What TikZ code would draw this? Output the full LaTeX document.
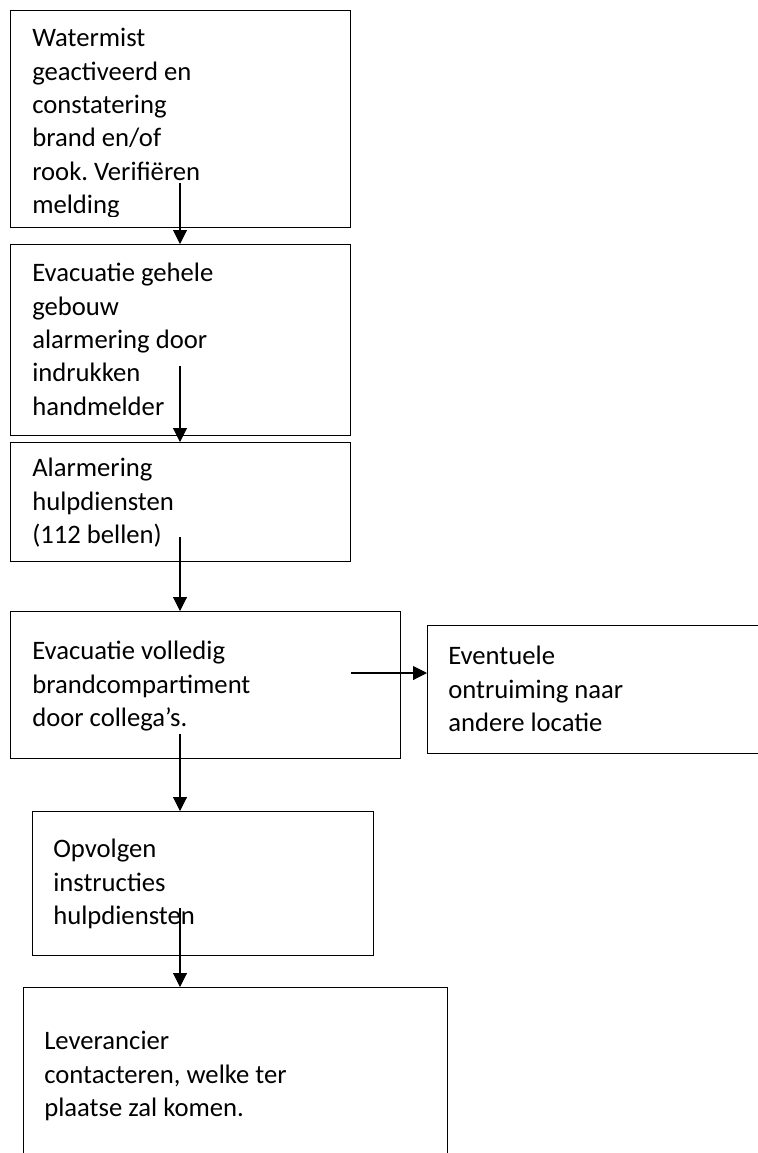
\documentclass[tikz,border=0pt]{standalone}
\usepackage{fontspec}
\setmainfont{Carlito}
\usetikzlibrary{arrows.meta}
\frenchspacing

\tikzset{
  box/.style={draw, line width=0.8pt, anchor=north west, inner sep=0pt},
  txt/.style={anchor=base west, align=left, inner sep=0pt, font=\fontsize{20}{25}\selectfont},
  arr/.style={-{Triangle[width=10.5pt,length=10.5pt]}, line width=0.8pt}
}

\begin{document}
\begin{tikzpicture}[x=0.75pt, y=-0.75pt]
        \useasboundingbox (0,0) rectangle (757,1153);

        % Draw the boxes
        \node[box, minimum width=255pt, minimum height=162.75pt] (watermist) at (10,10) {};
        \node[box, minimum width=255pt, minimum height=143.25pt] (gebouw) at (10,244) {};
        \node[box, minimum width=255pt, minimum height=89.25pt] (alarm) at (10,442) {};
        \node[box, minimum width=292.5pt, minimum height=110.25pt] (compart) at (10,611) {};
        \node[box, minimum width=251.25pt, minimum height=96pt] (ontruim) at (427,625) {};
        \node[box, minimum width=255.75pt, minimum height=108pt] (instruct) at (32,811) {};
        \node[box, minimum width=318pt, minimum height=133.5pt] (leverancier) at (23,987) {};

        % Draw the texts (anchored at the baseline of the last line)
        \begin{scope}
            \clip (watermist.north west) rectangle ([yshift=9pt]watermist.south east);
            \node[txt] (twatermist) at (32,213.5) {Watermist\\geactiveerd en\\constatering\\brand en/of\\rook. Verifiëren\\melding};
        \end{scope}
        \node[txt] (tgebouw) at (32,415) {Evacuatie gehele\\gebouw\\alarmering door\\indrukken\\handmelder};
        \node[txt] (talarm) at (32,543.5) {Alarmering\\hulpdiensten\\(112 bellen)};
        \node[txt] (tcompart) at (32,726.5) {Evacuatie volledig\\brandcompartiment\\door collega’s.};
        \node[txt] (tontruim) at (448,731.5) {Eventuele\\ontruiming naar\\andere locatie};
        \node[txt] (tinstruct) at (53,924.5) {Opvolgen\\instructies\\hulpdiensten};
        \node[txt] (tleverancier) at (44,1116.5) {Leverancier\\contacteren, welke ter\\plaatse zal komen.};

        % Draw the arrows
        \coordinate (s1) at (180,183);
        \coordinate (s2) at (180,366);
        \coordinate (s3) at (180,537);
        \coordinate (s4) at (180,734);
        \coordinate (s5) at (180,908);
        \coordinate (s6) at (351,673);

        \draw[arr] (s1) -- (s1 |- gebouw.north);
        \draw[arr] (s2) -- (s2 |- alarm.north);
        \draw[arr] (s3) -- (s3 |- compart.north);
        \draw[arr] (s4) -- (s4 |- instruct.north);
        \draw[arr] (s5) -- (s5 |- leverancier.north);
        \draw[arr] (s6) -- (s6 -| ontruim.west);
    \end{tikzpicture}
\end{document}
